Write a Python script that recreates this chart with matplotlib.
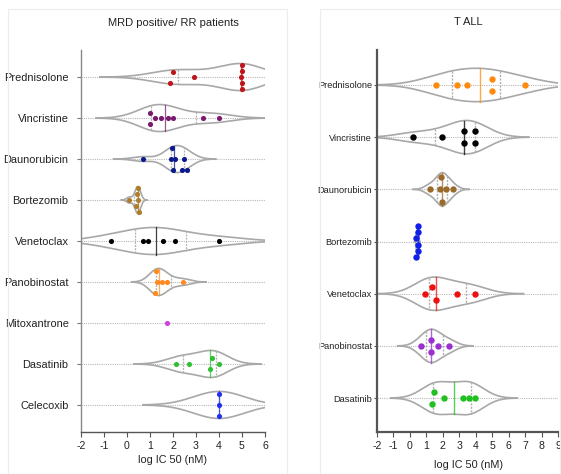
import numpy as np
import matplotlib
matplotlib.use("Agg")
import matplotlib.pyplot as plt
from matplotlib.patches import Rectangle

plt.rcParams["font.family"] = ["Liberation Sans", "DejaVu Sans"]

# ─── Datos: log IC50 (nM) ────────────────────────────────────────────────────

mrd_drugs = ["Prednisolone", "Vincristine", "Daunorubicin", "Bortezomib", "Venetoclax",
             "Panobinostat", "Mitoxantrone", "Dasatinib", "Celecoxib"]
mrd_colors = ["#c0141c", "#7a1a6e", "#0a1a8a", "#b07d2a", "#000000",
              "#ff8a1f", "#d040e0", "#30c030", "#2030ee"]
mrd_values = [
    [2.0, 1.85, 2.9, 4.95, 4.98, 4.98, 4.98, 4.98],
    [1.0, 1.0, 1.22, 1.47, 1.8, 2.01, 3.32, 4.02],
    [0.68, 1.9, 2.09, 2.49, 2.01, 1.94, 2.4, 2.6],
    [0.1, 0.48, 0.4, 0.45, 0.52, 0.48],
    [-0.7, 0.68, 0.9, 1.58, 2.09, 4.01],
    [1.29, 1.22, 1.26, 1.51, 1.73, 2.42],
    [1.73],
    [2.12, 2.71, 3.71, 3.59, 4.01],
    [4.0, 4.0, 4.0],
]

tall_drugs = ["Prednisolone", "Vincristine", "Daunorubicin", "Bortezomib",
              "Venetoclax", "Panobinostat", "Dasatinib"]
tall_colors = ["#ff8a10", "#000000", "#9a6a2a", "#1020e8",
               "#ee1010", "#9a30d0", "#20c020"]
tall_values = [
    [1.58, 2.89, 3.5, 4.99, 4.99, 7.01],
    [0.2, 1.98, 3.27, 3.27, 3.98, 3.98],
    [1.82, 1.21, 2.59, 1.98, 1.86, 2.18],
    [0.4, 0.48, 0.5, 0.5, 0.48, 0.4],
    [0.89, 1.37, 1.58, 2.89, 3.98],
    [0.7, 1.27, 1.27, 1.68, 2.39],
    [1.45, 1.37, 2.08, 3.25, 3.62, 3.98],
]

# ancho de banda fijo para grupos sin dispersión
bw_fallback = {"Celecoxib": 1.1}


# ─── Helpers ──────────────────────────────────────────────────────────────────

def kde_outline(vals, bw, cut=3.0, npts=300):
    grid = np.linspace(vals.min() - cut * bw, vals.max() + cut * bw, npts)
    dens = np.exp(-0.5 * ((grid[:, None] - vals[None, :]) / bw) ** 2).sum(axis=1)
    return grid, dens / dens.max()


def swarm_offsets(ax, vals, y0, diam, step, max_off):
    """Desplazamientos verticales (en unidades de datos) tipo beeswarm."""
    trans = ax.transData
    xs = trans.transform(np.column_stack([vals, np.full(len(vals), y0)]))[:, 0]
    thr = 0.8 * diam
    cands = [0] + [s * i for i in range(1, 12) for s in (-1, 1)]
    placed = []
    for x in xs:
        for c in cands:
            if all(abs(x - px) >= thr or c != pc for px, pc in placed):
                break
        placed.append((x, c))
    offs = np.array([p[1] for p in placed], dtype=float)

    # grupos de puntos que se tocan en x
    order = np.argsort(xs)
    clusters, cur = [], [order[0]]
    for a, b in zip(order[:-1], order[1:]):
        if xs[b] - xs[a] < thr:
            cur.append(b)
        else:
            clusters.append(cur)
            cur = [b]
    clusters.append(cur)

    offs_px = offs * step
    for cl in clusters:
        cl = np.array(cl)
        o = offs[cl]
        if len(set(o)) == len(o):      # columna vertical pura -> centrar
            o = o - (o.max() + o.min()) / 2
        o_px = o * step
        span = np.abs(o_px).max()
        if span > max_off:
            o_px *= max_off / span
        offs_px[cl] = o_px

    px_per_unit = abs(trans.transform((0, 1))[1] - trans.transform((0, 0))[1])
    return -offs_px / px_per_unit, px_per_unit


def draw_panel(ax, drugs, colors, values, half_w, diam, step, med_lw, ms):
    xmin, xmax = ax.get_xlim()
    for i, (name, col, vals) in enumerate(zip(drugs, colors, values)):
        vals = np.asarray(vals, dtype=float)
        ax.plot([xmin, xmax], [i, i], color="#b8b8b8", lw=0.8, ls=(0, (1, 1)), zorder=1)

        if len(vals) > 1:
            sd = vals.std(ddof=1)
            bw = 1.06 * sd * len(vals) ** -0.2 if sd > 1e-6 else bw_fallback.get(name, 0.5)
            grid, dens = kde_outline(vals, bw)
            ax.plot(grid, i - dens * half_w, color="#a8a8a8", lw=1.2, zorder=2)
            ax.plot(grid, i + dens * half_w, color="#a8a8a8", lw=1.2, zorder=2)

            q1, med, q3 = np.percentile(vals, [25, 50, 75], method="weibull")
            for q, c, ls in [(q1, "#b0b0b0", (0, (1.5, 1))), (q3, "#b0b0b0", (0, (1.5, 1))),
                             (med, col, "-")]:
                h = np.interp(q, grid, dens) * half_w
                ax.plot([q, q], [i - h, i + h], color=c, lw=med_lw, ls=ls, zorder=2,
                        alpha=0.75 if ls == "-" else 1)

        _, ppu = swarm_offsets(ax, vals, i, diam, step, 1.0)
        dy, _ = swarm_offsets(ax, vals, i, diam, step, 0.3 * ppu)
        ax.plot(vals, i + dy, "o", color=col, ms=ms, mec="none", zorder=3)

    ax.set_yticks(range(len(drugs)))


# ─── Figura ───────────────────────────────────────────────────────────────────

W, H = 561, 474
fig = plt.figure(figsize=(W / 100, H / 100), dpi=100)

fig.patches.append(Rectangle((8 / W, 0), 279 / W, 1 - 9 / H, transform=fig.transFigure,
                             fill=False, ec="#ececec", lw=0.8))
fig.patches.append(Rectangle((320 / W, 0), 240 / W, 1 - 9 / H, transform=fig.transFigure,
                             fill=False, ec="#ececec", lw=0.8))

ax1 = fig.add_axes([81 / W, 42 / H, 184 / W, 382 / H])
ax1.set_xlim(-2, 6)
ax1.set_ylim(len(mrd_drugs) - 0.34, -0.66)
draw_panel(ax1, mrd_drugs, mrd_colors, mrd_values, half_w=0.33, diam=5.0, step=11.0,
           med_lw=0.9, ms=3.7)
ax1.set_yticklabels(mrd_drugs, fontsize=7.9, color="#222222")
ax1.set_xticks(range(-2, 7))
ax1.set_xticklabels([str(v) for v in range(-2, 7)], fontsize=7.6, color="#222222")
ax1.tick_params(axis="y", length=3, color="#777777", pad=6)
ax1.tick_params(axis="x", length=3.5, color="#555555", pad=3)
for s in ["top", "right"]:
    ax1.spines[s].set_visible(False)
ax1.spines["left"].set_color("#888888")
ax1.spines["bottom"].set_color("#555555")
ax1.spines["left"].set_linewidth(1.0)
ax1.spines["bottom"].set_linewidth(1.0)

ax2 = fig.add_axes([377 / W, 42 / H, 181 / W, 382 / H])
ax2.set_xlim(-2, 9)
ax2.set_ylim(len(tall_drugs) - 0.35, -0.67)
draw_panel(ax2, tall_drugs, tall_colors, tall_values, half_w=0.32, diam=6.3, step=12.5,
           med_lw=1.0, ms=4.6)
ax2.set_yticklabels(tall_drugs, fontsize=6.7, color="#222222")
ax2.set_xticks(range(-2, 10))
ax2.set_xticklabels([str(v) for v in range(-2, 10)], fontsize=7.6, color="#222222")
ax2.tick_params(axis="y", length=2.5, color="#555555", pad=1)
ax2.tick_params(axis="x", length=3.5, color="#555555", pad=3)
for s in ["top", "right"]:
    ax2.spines[s].set_visible(False)
for s in ["left", "bottom"]:
    ax2.spines[s].set_color("#555555")
    ax2.spines[s].set_linewidth(1.6)

fig.text(173 / W, 1 - 23 / H, "MRD positive/ RR patients", ha="center", va="center",
         fontsize=8, color="#222222")
fig.text(468 / W, 1 - 22 / H, "T ALL", ha="center", va="center", fontsize=8, color="#222222")
fig.text(173 / W, 1 - 460 / H, "log IC 50 (nM)", ha="center", va="center", fontsize=7.8,
         color="#222222")
fig.text(468 / W, 1 - 465 / H, "log IC 50 (nM)", ha="center", va="center", fontsize=7.8,
         color="#222222")

fig.savefig("out.png", dpi=100)
plt.close(fig)
